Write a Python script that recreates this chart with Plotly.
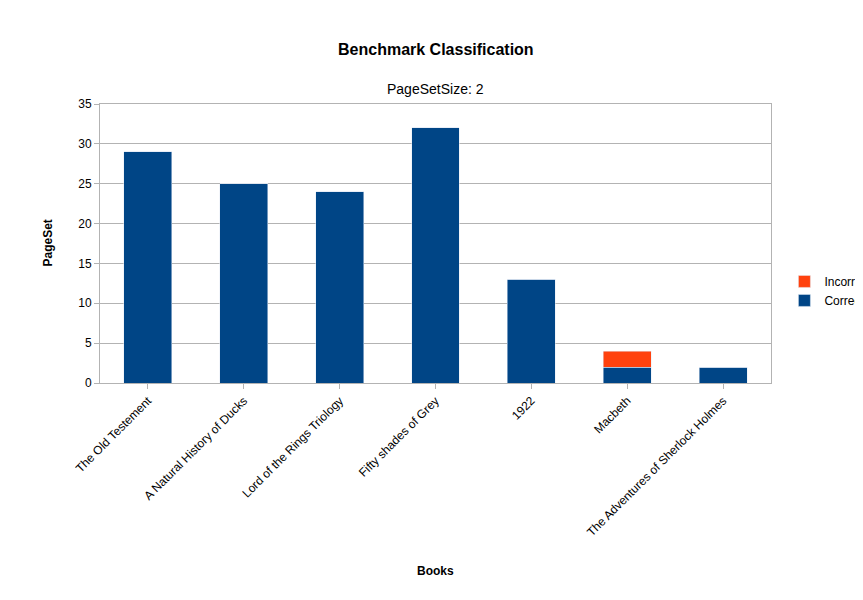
import plotly.graph_objects as go

books = ["The Old Testement", "A Natural History of Ducks", "Lord of the Rings Triology",
         "Fifty shades of Grey", "1922", "Macbeth", "The Adventures of Sherlock Holmes"]
correct = [29, 25, 24, 32, 13, 2, 2]
incorrect = [0, 0, 0, 0, 0, 2, 0]

fig = go.Figure()
fig.add_bar(x=books, y=correct, name="Correct", marker_color="#004586", width=0.5)
fig.add_bar(x=books, y=incorrect, name="Incorrect", marker_color="#ff420e", width=0.5)

fig.update_layout(
    barmode="stack",
    width=863, height=600,
    margin=dict(l=92, r=100, t=96, b=225, autoexpand=False),
    paper_bgcolor="white", plot_bgcolor="white",
    font=dict(family="Liberation Sans, Arial", size=12, color="black"),
    legend=dict(x=1.02, y=0.33, yanchor="middle", traceorder="reversed",
                font=dict(size=12)),
)
H = 279
fig.add_annotation(text="<b>Benchmark Classification</b>", xref="paper", yref="paper",
                   x=0.5, y=1 + (96 - 31) / H, showarrow=False, font=dict(size=16))
fig.add_annotation(text="PageSetSize: 2", xref="paper", yref="paper",
                   x=0.5, y=1 + (96 - 71) / H, showarrow=False, font=dict(size=14))
fig.add_annotation(text="<b>Books</b>", xref="paper", yref="paper",
                   x=0.5, y=-(572 - 375) / H, showarrow=False, font=dict(size=12))
fig.add_annotation(text="<b>PageSet</b>", xref="paper", yref="paper", textangle=-90,
                   x=-(92 - 30) / 671, y=0.5, showarrow=False, font=dict(size=12))

fig.update_xaxes(tickangle=-45, showline=True, linecolor="#b3b3b3", mirror=True,
                 ticks="outside", tickcolor="#b3b3b3", ticklen=5, automargin=False)
fig.update_yaxes(range=[0, 35], dtick=5, showgrid=True, gridcolor="#b3b3b3",
                 showline=True, linecolor="#b3b3b3", mirror=True, zeroline=False,
                 ticks="outside", tickcolor="#b3b3b3", ticklen=5, automargin=False)

fig.write_html("out.html")
